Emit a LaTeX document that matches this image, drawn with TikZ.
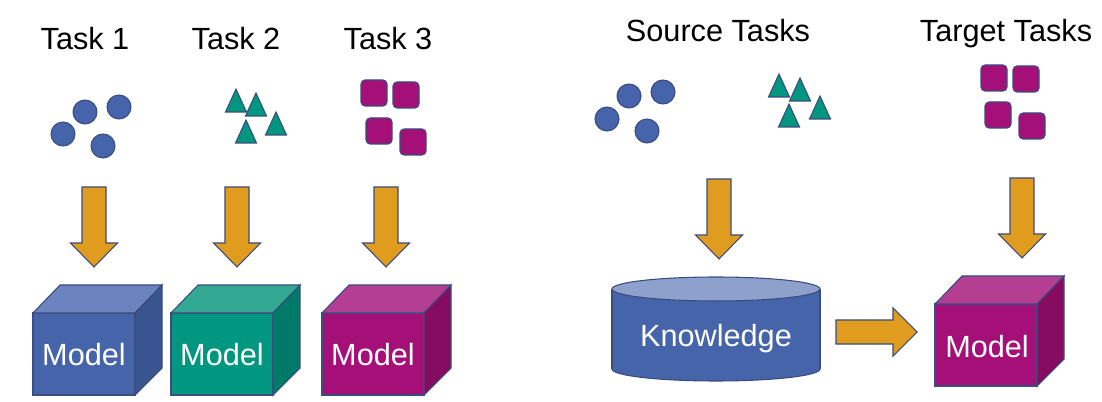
\documentclass[tikz,border=0pt]{standalone}
\usepackage{fontspec}
\setmainfont{Liberation Sans}

\definecolor{kblue}{HTML}{4564A9}
\definecolor{kbluetop}{HTML}{6B83BE}
\definecolor{kblueside}{HTML}{3A5490}
\definecolor{kteal}{HTML}{00967F}
\definecolor{ktealtop}{HTML}{33A994}
\definecolor{ktealside}{HTML}{007A68}
\definecolor{kmag}{HTML}{A50F78}
\definecolor{kmagtop}{HTML}{B33E92}
\definecolor{kmagside}{HTML}{850C61}
\definecolor{korange}{HTML}{E09C1E}
\definecolor{kedge}{HTML}{3B4C7E}
\definecolor{kcyltop}{HTML}{8EA1CC}

\tikzset{
  edge/.style={draw=kedge, line width=0.8pt},
  title/.style={font=\fontsize{23}{27}\selectfont, anchor=base},
  inner/.style={font=\fontsize{23}{27}\selectfont, anchor=base, text=white},
  pics/cube/.style n args={3}{code={
    \filldraw[fill=#1, edge] (-51,-41) rectangle (51,41);
    \filldraw[fill=#2, edge] (-51,-41) -- (-24,-69) -- (78,-69) -- (51,-41) -- cycle;
    \filldraw[fill=#3, edge] (51,-41) -- (78,-69) -- (78,14) -- (51,41) -- cycle;
  }},
  pics/downarrow/.style={code={
    \filldraw[fill=korange, edge] (0,0) -- (-23.5,-24) -- (-12,-24) -- (-12,-80)
      -- (12,-80) -- (12,-24) -- (23.5,-24) -- cycle;
  }},
  pics/rightarrow/.style={code={
    \filldraw[fill=korange, edge] (0,0) -- (-24,-24) -- (-24,-12) -- (-81,-12)
      -- (-81,12) -- (-24,12) -- (-24,24) -- cycle;
  }},
  pics/tri/.style={code={
    \filldraw[fill=kteal, edge] (0,0) -- (10.5,23) -- (-10.5,23) -- cycle;
  }},
}

\begin{document}
\begin{tikzpicture}[x=0.75pt, y=-0.75pt]
    \useasboundingbox (0,0) rectangle (1102,402);

    % Titles
    \node[title] (task1) at (85,50) {Task 1};
    \node[title] (task2) at (236,50) {Task 2};
    \node[title] (task3) at (388,50) {Task 3};
    \node[title] (source) at (718,42) {Source Tasks};
    \node[title] (target) at (1006,42) {Target Tasks};

    % Data of each task
    \foreach \x/\y in {85/112, 119/107, 63/134, 103/146, 629/96, 663/92, 607/119, 647/131}
        \filldraw[fill=kblue, edge] (\x,\y) circle (9pt);
    \foreach \x/\y in {236/89, 256/93, 276/112, 246/120, 779/74, 800/78, 820/96, 789/104}
        \pic at (\x,\y) {tri};
    \foreach \x/\y in {361/80, 393/82, 366/118, 400/129, 981/65, 1013/66, 985/102, 1019/113}
        \filldraw[fill=kmag, edge, rounded corners=3pt] (\x,\y) rectangle ++(26,26);

    % Arrows down
    \pic at (94,267) {downarrow};
    \pic at (237,267) {downarrow};
    \pic at (386,267) {downarrow};
    \pic at (719,259) {downarrow};
    \pic at (1022,258) {downarrow};

    % Separate models
    \pic at (84,354) {cube={kblue}{kbluetop}{kblueside}};
    \node[inner] (model1) at (84,365) {Model};
    \pic at (222,354) {cube={kteal}{ktealtop}{ktealside}};
    \node[inner] (model2) at (222,365) {Model};
    \pic at (373,354) {cube={kmag}{kmagtop}{kmagside}};
    \node[inner] (model3) at (373,365) {Model};

    % Knowledge store
    \filldraw[fill=kblue, edge] (716,369) ellipse [x radius=78pt, y radius=9pt];
    \fill[kblue] (612,289) rectangle (820,369);
    \draw[edge] (612,289) -- (612,369) (820,289) -- (820,369);
    \filldraw[fill=kcyltop, edge] (716,289) ellipse [x radius=78pt, y radius=9pt];
    \node[inner] (know) at (716,347) {Knowledge};

    % Transfer
    \pic at (917,332) {rightarrow};
    \pic at (986,345) {cube={kmag}{kmagtop}{kmagside}};
    \node[inner] (model4) at (987,357) {Model};
\end{tikzpicture}
\end{document}
